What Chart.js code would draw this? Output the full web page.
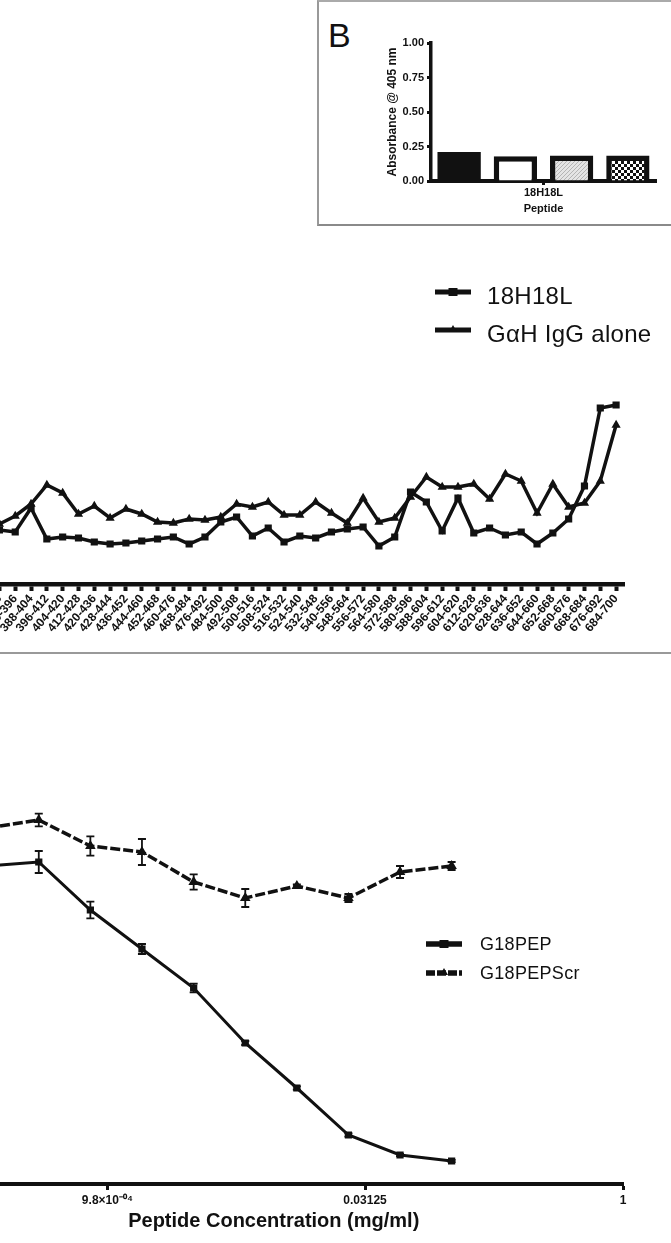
<!DOCTYPE html>
<html>
<head>
<meta charset="utf-8">
<script src="https://cdn.jsdelivr.net/npm/chart.js@4.4.1/dist/chart.umd.min.js"></script>
<style>
  html, body { margin: 0; padding: 0; background: #fff; }
  body { width: 671px; height: 1243px; position: relative; overflow: hidden;
         font-family: "Liberation Sans", Arial, sans-serif; color: #111; }
  canvas { position: absolute; }
  .box { position: absolute; left: 317px; top: 0; width: 352px; height: 222px;
         border-left: 2px solid #999; border-bottom: 2px solid #8a8a8a; border-top: 2px solid #aaa; }
  .rule { position: absolute; left: 0; top: 652px; width: 671px; height: 2px; background: #999; }
  .letter { position: absolute; left: 328px; top: 18px; font-size: 34px; line-height: 34px; }
  .leg { position: absolute; white-space: nowrap; }
</style>
</head>
<body>
<div class="box"></div>
<div class="letter">B</div>
<div class="rule"></div>
<canvas id="barChart" width="353" height="220" style="left:318px; top:2px;"></canvas>
<canvas id="scanChart" width="660" height="414" style="left:-16px; top:240px;"></canvas>
<canvas id="doseChart" width="720" height="553" style="left:-83px; top:690px;"></canvas>
<script>
// panel B: one peptide, four treatments
const barGroup = ['18H18L'];
const barSeries = ['Sample 1', 'Sample 2', 'Sample 3', 'Sample 4'];
const barValues = [0.21, 0.18, 0.185, 0.185];
const barTicks = [0, 0.25, 0.5, 0.75, 1.0];

// peptide scan
const peptides = ['372-388', '380-396', '388-404', '396-412', '404-420', '412-428', '420-436', '428-444',
  '436-452', '444-460', '452-468', '460-476', '468-484', '476-492', '484-500', '492-508', '500-516',
  '508-524', '516-532', '524-540', '532-548', '540-556', '548-564', '556-572', '564-580', '572-588',
  '580-596', '588-604', '596-612', '604-620', '612-628', '620-636', '628-644', '636-652', '644-660',
  '652-668', '660-676', '668-684', '676-692', '684-700'];
const scanNames = ['18H18L', 'G\u03b1H IgG alone'];
const scan18H18L = [0.54, 0.52, 0.76, 0.45, 0.47, 0.46, 0.42, 0.40, 0.41, 0.43, 0.45, 0.47, 0.40, 0.47,
  0.62, 0.67, 0.48, 0.56, 0.42, 0.48, 0.46, 0.52, 0.55, 0.57, 0.38, 0.47, 0.92, 0.82, 0.53, 0.86, 0.51,
  0.56, 0.49, 0.52, 0.40, 0.51, 0.65, 0.98, 1.76, 1.79];
const scanIgG = [0.60, 0.68, 0.80, 0.99, 0.91, 0.70, 0.78, 0.66, 0.75, 0.70, 0.62, 0.61, 0.65, 0.64,
  0.67, 0.80, 0.77, 0.82, 0.69, 0.69, 0.82, 0.71, 0.61, 0.86, 0.62, 0.66, 0.87, 1.07, 0.97, 0.97, 1.00,
  0.85, 1.10, 1.03, 0.71, 1.00, 0.77, 0.81, 1.03, 1.59];

// peptide dilution
const conc = [0.000195, 0.00039, 0.00078, 0.00156, 0.003125, 0.00625, 0.0125, 0.025, 0.05, 0.1];
const doseNames = ['G18PEP', 'G18PEPScr'];
const g18pep = [1.59, 1.61, 1.37, 1.175, 0.98, 0.705, 0.48, 0.245, 0.145, 0.115];
const g18pepErr = [0.03, 0.055, 0.042, 0.025, 0.022, 0.01, 0.008, 0.008, 0.006, 0.006];
const g18scr = [1.78, 1.82, 1.69, 1.66, 1.51, 1.43, 1.49, 1.43, 1.56, 1.59];
const g18scrErr = [0.03, 0.032, 0.048, 0.065, 0.038, 0.045, 0.008, 0.02, 0.03, 0.02];
const concTicks = [9.8e-4, 0.03125, 1];
const concTickLabels = ['9.8\u00d710\u207b\u2070\u2074', '0.03125', '1'];

const INK = '#111';
Chart.defaults.font.family = '"Liberation Sans", Arial, sans-serif';
Chart.defaults.color = INK;
Chart.defaults.animation = false;
Chart.defaults.plugins.legend.display = false;
Chart.defaults.plugins.tooltip.enabled = false;

function pattern(size, draw) {
  const c = document.createElement('canvas');
  c.width = size; c.height = size;
  draw(c.getContext('2d'));
  return c.getContext('2d').createPattern(c, 'repeat');
}
const hatch = pattern(4, g => {
  g.fillStyle = '#e4e4e4'; g.fillRect(0, 0, 4, 4);
  g.strokeStyle = '#b4b4b4'; g.lineWidth = 1;
  g.beginPath(); g.moveTo(0, 4); g.lineTo(4, 0); g.stroke();
});
const checker = pattern(6, g => {
  g.fillStyle = '#fff'; g.fillRect(0, 0, 6, 6);
  g.fillStyle = INK; g.fillRect(0, 0, 3, 3); g.fillRect(3, 3, 3, 3);
});
const barFills = [INK, '#fff', hatch, checker];

new Chart(document.getElementById('barChart'), {
  type: 'bar',
  data: {
    labels: barGroup,
    datasets: barSeries.map((name, i) => ({
      label: name,
      data: [barValues[i]],
      backgroundColor: barFills[i],
      borderColor: INK,
      borderWidth: i === 0 ? 0 : 5.5,
      barPercentage: 0.77,
      categoryPercentage: 1
    }))
  },
  options: {
    responsive: false,
    layout: { padding: { left: 63, right: 15, top: 41, bottom: 0 } },
    scales: {
      x: {
        grid: { offset: false, drawOnChartArea: false, tickLength: 4, tickWidth: 3, tickColor: INK },
        border: { width: 4, color: INK },
        ticks: { font: { size: 11, weight: 'bold' }, padding: 1 },
        title: { display: true, text: 'Peptide', font: { size: 11, weight: 'bold' }, padding: { top: 2, bottom: 6 } },
        afterFit: s => { s.height = 41; s.paddingLeft = 0; s.paddingRight = 0; }
      },
      y: {
        min: 0, max: 1,
        afterBuildTicks: s => { s.ticks = barTicks.map(v => ({ value: v })); },
        grid: { drawOnChartArea: false, tickLength: 4, tickWidth: 3, tickColor: INK },
        border: { width: 3.5, color: INK },
        ticks: { font: { size: 11, weight: 'bold' }, padding: 3, callback: v => v.toFixed(2) },
        title: { display: true, text: 'Absorbance @ 405 nm', font: { size: 12, weight: 'bold' }, padding: { top: 4, bottom: 4 } },
        afterFit: s => { s.width = 50; }
      }
    }
  }
});

new Chart(document.getElementById('scanChart'), {
  type: 'line',
  data: {
    labels: peptides,
    datasets: [
      { label: scanNames[0], data: scan18H18L, borderColor: INK, backgroundColor: INK, borderWidth: 3.5,
        pointStyle: 'rect', pointRadius: 2.6 },
      { label: scanNames[1], data: scanIgG, borderColor: INK, backgroundColor: INK, borderWidth: 3.5,
        pointStyle: 'triangle', pointRadius: 1.8 }
    ]
  },
  options: {
    responsive: false,
    layout: { padding: { left: 0, right: 20, top: 44, bottom: 0 } },
    scales: {
      x: {
        offset: true,
        grid: { drawOnChartArea: false, tickLength: 7, tickWidth: 4, tickColor: INK },
        border: { width: 4.5, color: INK },
        ticks: { autoSkip: false, minRotation: 50, maxRotation: 50, padding: 1, font: { size: 12, weight: 'bold' } },
        afterFit: s => { s.height = 70; s.paddingLeft = 0; s.paddingRight = 0; }
      },
      y: { display: false, min: 0, max: 3 }
    }
  }
});

const errorBars = {
  id: 'errorBars',
  afterDatasetsDraw(chart) {
    const { ctx, scales: { x, y } } = chart;
    ctx.save();
    ctx.strokeStyle = INK;
    ctx.lineWidth = 1.8;
    chart.data.datasets.forEach(ds => {
      ds.data.forEach((pt, i) => {
        const e = ds.errors[i];
        const px = x.getPixelForValue(pt.x);
        const top = y.getPixelForValue(pt.y + e);
        const bot = y.getPixelForValue(pt.y - e);
        ctx.beginPath();
        ctx.moveTo(px, top); ctx.lineTo(px, bot);
        ctx.moveTo(px - 4, top); ctx.lineTo(px + 4, top);
        ctx.moveTo(px - 4, bot); ctx.lineTo(px + 4, bot);
        ctx.stroke();
      });
    });
    ctx.restore();
  }
};

new Chart(document.getElementById('doseChart'), {
  type: 'line',
  data: {
    datasets: [
      { label: doseNames[0], data: conc.map((c, i) => ({ x: c, y: g18pep[i] })), errors: g18pepErr,
        borderColor: INK, backgroundColor: INK, borderWidth: 3, pointStyle: 'rect', pointRadius: 3 },
      { label: doseNames[1], data: conc.map((c, i) => ({ x: c, y: g18scr[i] })), errors: g18scrErr,
        borderColor: INK, backgroundColor: INK, borderWidth: 3.5, borderDash: [10, 3],
        pointStyle: 'triangle', pointRadius: 2.6 }
    ]
  },
  options: {
    responsive: false,
    layout: { padding: { left: 0, right: 14, top: 94, bottom: 0 } },
    scales: {
      x: {
        type: 'logarithmic', min: 8.4e-5, max: 1,
        afterBuildTicks: s => { s.ticks = concTicks.map(v => ({ value: v })); },
        grid: { drawOnChartArea: false, tickLength: 6, tickWidth: 3, tickColor: INK },
        border: { width: 4, color: INK },
        ticks: { font: { size: 12, weight: 'bold' }, padding: 3, callback: (v, i) => concTickLabels[i] },
        title: { display: true, text: 'Peptide Concentration (mg/ml)', font: { size: 20, weight: 'bold' },
          padding: { top: 2, bottom: 10 } },
        afterFit: s => { s.height = 59; s.paddingLeft = 0; s.paddingRight = 0; }
      },
      y: { display: false, min: 0, max: 2 }
    }
  },
  plugins: [errorBars]
});

// legends drawn beside the curves
function swatch(style, dashed, lineW) {
  const c = document.createElement('canvas');
  c.width = 40; c.height = 16;
  const g = c.getContext('2d');
  g.strokeStyle = INK; g.fillStyle = INK; g.lineWidth = lineW;
  if (dashed) g.setLineDash([9, 2]);
  g.beginPath(); g.moveTo(2, 8); g.lineTo(38, 8); g.stroke();
  g.setLineDash([]);
  if (style === 'rect') g.fillRect(15.5, 4, 9, 8);
  else { g.beginPath(); g.moveTo(20, 3); g.lineTo(24, 10); g.lineTo(16, 10); g.closePath(); g.fill(); }
  return c;
}
function legend(names, styles, dashes, opt) {
  names.forEach((name, i) => {
    const c = swatch(styles[i], dashes[i], opt.lineW);
    c.style.left = opt.swX + 'px';
    c.style.top = (opt.ys[i] - 8) + 'px';
    document.body.appendChild(c);
    const t = document.createElement('div');
    t.className = 'leg';
    t.textContent = name;
    t.style.left = opt.textX + 'px';
    t.style.top = (opt.ys[i] + opt.textDy - opt.size / 2) + 'px';
    t.style.fontSize = opt.size + 'px';
    t.style.lineHeight = opt.size + 'px';
    t.style.letterSpacing = opt.spacing + 'px';
    document.body.appendChild(t);
  });
}
legend(scanNames, ['rect', 'triangle'], [false, false],
  { swX: 433, textX: 487, ys: [292, 330], textDy: 4, size: 24, spacing: 0.3, lineW: 5 });
legend(doseNames, ['rect', 'triangle'], [false, true],
  { swX: 424, textX: 480, ys: [944, 973], textDy: 0, size: 18, spacing: 0.3, lineW: 5.5 });
</script>
</body>
</html>
